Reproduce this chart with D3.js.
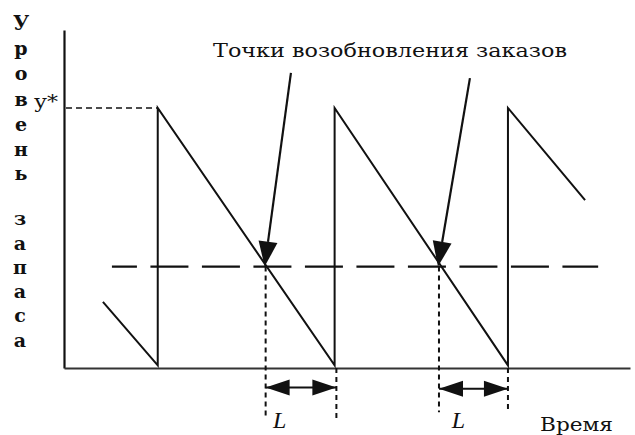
<!DOCTYPE html>
<html>
<head>
<meta charset="utf-8">
<script src="https://cdn.jsdelivr.net/npm/d3@7"></script>
<style>
  html, body { margin: 0; padding: 0; background: #fff; }
  svg { display: block; }
</style>
</head>
<body>
<svg id="chart" width="635" height="435"></svg>
<script>
// ---- data (time units on x, stock level on y) ----
const yStar = 10;            // max stock level y*
const reorderLevel = 3.9;    // reorder point level
// sawtooth inventory path: [time, level]
const inventory = [
  [2.2, 2.54], [5.3, 0.1], [5.3, 10],
  [15.3, 0.1], [15.3, 10],
  [25.1, 0.1], [25.1, 10],
  [29.46, 6.46]
];
const reorderLineSpan = [2.71, 30.2];
// reorder moments and lead time intervals L
const reorderTimes = [11.4, 21.2];
const deliveryTimes = [15.4, 25.1];
const leadLabels = ["L", "L"];
const leadLabelTimes = [12.2, 22.3];
const pointerStarts = [[12.83, 11.35], [22.95, 11.15]];
const title = "Точки возобновления заказов";
const yLabelTop = ["У", "р", "о", "в", "е", "н", "ь"];
const yLabelBottom = ["з", "а", "п", "а", "с", "а"];
const xLabel = "Время";
const yStarLabel = "у*";

// ---- scales ----
const x = d3.scaleLinear().domain([0, 32]).range([64, 630]);
const y = d3.scaleLinear().domain([0, 13]).range([368, 30]);

const svg = d3.select("#chart");
const ink = "#111";

// axes (domain lines only)
svg.append("g").attr("transform", `translate(${x(0)},0)`)
  .call(d3.axisLeft(y).tickValues([]).tickSizeOuter(0))
  .call(g => g.select(".domain").attr("stroke", ink).attr("stroke-width", 2.2));
svg.append("g").attr("transform", `translate(0,${y(0)})`)
  .call(d3.axisBottom(x).tickValues([]).tickSizeOuter(0))
  .call(g => g.select(".domain").attr("stroke", "#333").attr("stroke-width", 1.8));

// y* dashed guide
svg.append("line")
  .attr("x1", x(0) + 2).attr("x2", x(inventory[2][0]))
  .attr("y1", y(yStar)).attr("y2", y(yStar))
  .attr("stroke", ink).attr("stroke-width", 1.4)
  .attr("stroke-dasharray", "6,4");

// reorder level long dashes
svg.append("line")
  .attr("x1", x(reorderLineSpan[0])).attr("x2", x(reorderLineSpan[1]))
  .attr("y1", y(reorderLevel)).attr("y2", y(reorderLevel))
  .attr("stroke", ink).attr("stroke-width", 2.2)
  .attr("stroke-dasharray", "38,13.5")
  .attr("stroke-dashoffset", 13);

// sawtooth
const line = d3.line().x(d => x(d[0])).y(d => y(d[1]));
svg.append("path").datum(inventory)
  .attr("d", line)
  .attr("fill", "none").attr("stroke", ink).attr("stroke-width", 2)
  .attr("stroke-linejoin", "miter");

// dotted verticals for lead times + double arrows
const arrowY = [-0.75, -0.8];
const dotEnds = [[-1.88, -2.08], [-1.7, -1.62]];
reorderTimes.forEach((t, i) => {
  const td = deliveryTimes[i];
  svg.append("line")
    .attr("x1", x(t)).attr("x2", x(t))
    .attr("y1", y(reorderLevel)).attr("y2", y(dotEnds[i][0]))
    .attr("stroke", ink).attr("stroke-width", 2)
    .attr("stroke-dasharray", "5,4");
  svg.append("line")
    .attr("x1", x(td)).attr("x2", x(td))
    .attr("y1", y(0)).attr("y2", y(dotEnds[i][1]))
    .attr("stroke", ink).attr("stroke-width", 2)
    .attr("stroke-dasharray", "5,4");
  const ay = y(arrowY[i]);
  const x1 = x(t), x2 = x(td);
  svg.append("line")
    .attr("x1", x1).attr("x2", x2).attr("y1", ay).attr("y2", ay)
    .attr("stroke", ink).attr("stroke-width", 2);
  const hl = 24, hw = 8;
  svg.append("path")
    .attr("d", `M${x1},${ay} L${x1 + hl},${ay - hw} L${x1 + hl},${ay + hw} Z`)
    .attr("fill", ink);
  svg.append("path")
    .attr("d", `M${x2},${ay} L${x2 - hl},${ay - hw} L${x2 - hl},${ay + hw} Z`)
    .attr("fill", ink);
  svg.append("text")
    .attr("x", x(leadLabelTimes[i])).attr("y", 428)
    .attr("text-anchor", "middle")
    .attr("font-family", "Liberation Serif").attr("font-style", "italic")
    .attr("font-size", 24).attr("fill", ink)
    .text(leadLabels[i]);
});

// pointer arrows from title to reorder points
pointerStarts.forEach((s, i) => {
  const tx = x(reorderTimes[i]) - 1, ty = y(reorderLevel);
  const sx = x(s[0]), sy = y(s[1]);
  const ang = Math.atan2(ty - sy, tx - sx);
  const hl = 25, hw = 9.5;
  const bx = tx - hl * Math.cos(ang), by = ty - hl * Math.sin(ang);
  svg.append("line")
    .attr("x1", sx).attr("y1", sy).attr("x2", bx).attr("y2", by)
    .attr("stroke", ink).attr("stroke-width", 2.2);
  const px = -Math.sin(ang) * hw, py = Math.cos(ang) * hw;
  svg.append("path")
    .attr("d", `M${tx},${ty} L${bx + px},${by + py} L${bx - px},${by - py} Z`)
    .attr("fill", ink);
});

// title
svg.append("text")
  .attr("x", 213).attr("y", 57)
  .attr("font-family", "DejaVu Serif").attr("font-size", 19)
  .attr("textLength", 354).attr("lengthAdjust", "spacingAndGlyphs")
  .attr("fill", ink).text(title);

// vertical y label
const topBase = [30, 55, 80, 106, 131, 156, 180];
const botBase = [225, 250, 274, 298, 322, 347];
svg.append("g").selectAll("text").data(yLabelTop).join("text")
  .attr("x", 21).attr("y", (d, i) => topBase[i])
  .attr("text-anchor", "middle")
  .attr("font-family", "DejaVu Serif").attr("font-weight", "bold")
  .attr("font-size", (d, i) => i === 0 ? 20 : 19).attr("fill", ink)
  .text(d => d);
svg.append("g").selectAll("text").data(yLabelBottom).join("text")
  .attr("x", 20).attr("y", (d, i) => botBase[i])
  .attr("text-anchor", "middle")
  .attr("font-family", "DejaVu Serif").attr("font-weight", "bold")
  .attr("font-size", 19).attr("fill", ink)
  .text(d => d);

// y* label
svg.append("text")
  .attr("x", 34).attr("y", 108)
  .attr("font-family", "DejaVu Serif").attr("font-size", 19)
  .attr("textLength", 24).attr("lengthAdjust", "spacingAndGlyphs")
  .attr("fill", ink).text(yStarLabel);

// x label
svg.append("text")
  .attr("x", 540).attr("y", 431)
  .attr("font-family", "DejaVu Serif").attr("font-size", 19)
  .attr("textLength", 73).attr("lengthAdjust", "spacingAndGlyphs")
  .attr("fill", ink).text(xLabel);
</script>
</body>
</html>
